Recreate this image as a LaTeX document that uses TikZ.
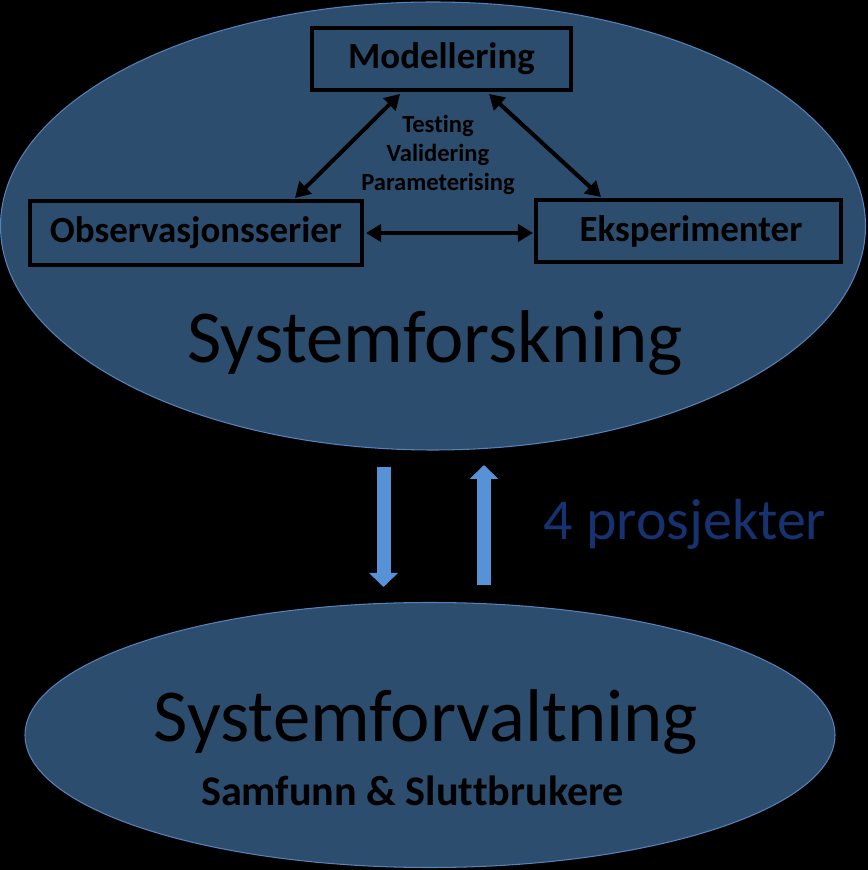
\documentclass[tikz,border=0pt]{standalone}
\usepackage{fontspec}
\setmainfont{Carlito}[Ligatures=NoCommon]
\usetikzlibrary{shapes.geometric, arrows.meta, positioning}

\definecolor{ovalfill}{RGB}{44,77,109}
\definecolor{ovalline}{RGB}{84,130,185}
\definecolor{flowblue}{RGB}{88,146,214}
\definecolor{projblue}{RGB}{22,50,112}

\begin{document}
\begin{tikzpicture}[
    >={Triangle[length=0.3cm, width=0.34cm]},
    oval/.style={ellipse, draw=ovalline, line width=0.6pt, fill=ovalfill, inner sep=0pt},
    stage/.style={draw=black, line width=2.3pt, inner sep=0pt, font=\fontsize{21}{25}\selectfont\bfseries},
    link/.style={<->, line width=2.3pt, black},
    flow/.style={-{Triangle[length=0.28cm, width=0.56cm]}, line width=0.28cm, flowblue}
]

% background
\fill[black] (0,0) rectangle (17.36,17.4);
\useasboundingbox (0,0) rectangle (17.36,17.4);

% ==========================================
% 1. The two ovals
% ==========================================
\node[oval, minimum width=17.3cm, minimum height=8.96cm] (forsk) at (8.66,12.88) {};
\node[oval, minimum width=16.2cm, minimum height=5.3cm] (forvalt) at (8.6,2.7) {};

% ==========================================
% 2. Research boxes
% ==========================================
\node[stage, minimum width=5.18cm, minimum height=1.24cm] (model) at (8.83,16.22) {Modellering};
\node[stage, minimum width=6.64cm, minimum height=1.28cm] (obs) at (3.92,12.74) {Observasjonsserier};
\node[stage, minimum width=6.1cm, minimum height=1.24cm] (eksp) at (13.77,12.78) {\hspace{0.1cm}Eksperimenter};

% links between the boxes
\draw[link] ([xshift=-0.83cm, yshift=-0.04cm]model.south) -- ([xshift=1.98cm, yshift=0.02cm]obs.north);
\draw[link] ([xshift=0.95cm, yshift=-0.04cm]model.south) -- ([xshift=-1.75cm, yshift=0.02cm]eksp.north);
\draw[link] ([xshift=0.04cm]obs.east) -- ([xshift=-0.02cm]obs.east -| eksp.west);

\node[align=center, font=\fontsize{14}{16.5}\selectfont\bfseries] (steg) at (8.76,14.3)
    {Testing\\Validering\\Parameterising};

\node[font=\fontsize{42.5}{50}\selectfont] (forsktxt) at (8.7,10.55) {Systemforskning};

% ==========================================
% 3. Flow between the ovals
% ==========================================
\coordinate (ned1) at (7.67,8.05);
\coordinate (ned2) at (7.67,5.66);
\coordinate (opp1) at (9.68,5.70);
\coordinate (opp2) at (9.68,8.10);
\draw[flow] (ned1) -- (ned2);
\draw[flow] (opp1) -- (opp2);

\node[font=\fontsize{33}{39}\selectfont, text=projblue] (proj) at (13.7,6.92) {4 prosjekter};

% ==========================================
% 4. Management oval text
% ==========================================
\node[font=\fontsize{42.5}{50}\selectfont] (forvtxt) at (8.52,2.97) {Systemforvaltning};
\node[font=\fontsize{24}{28}\selectfont\bfseries] (samf) at (8.25,1.58) {Samfunn \& Sluttbrukere};

\end{tikzpicture}
\end{document}
